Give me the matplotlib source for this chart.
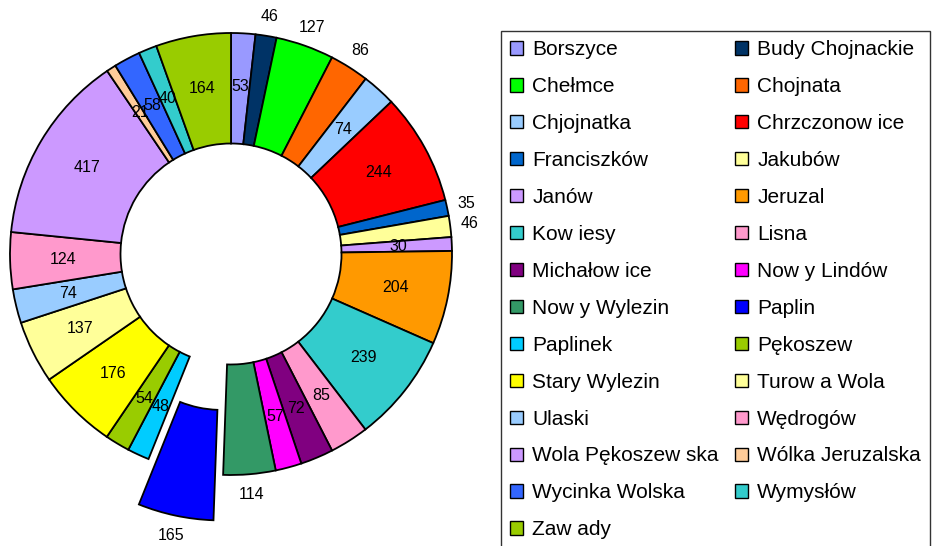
import matplotlib
matplotlib.use("Agg")
import matplotlib.pyplot as plt
from matplotlib.patches import Patch
import numpy as np

plt.rcParams['font.family'] = ['Liberation Sans', 'DejaVu Sans']

names = ["Borszyce", "Budy Chojnackie", "Chełmce", "Chojnata", "Chjojnatka",
         "Chrzczonow ice", "Franciszków", "Jakubów", "Janów", "Jeruzal",
         "Kow iesy", "Lisna", "Michałow ice", "Now y Lindów", "Now y Wylezin",
         "Paplin", "Paplinek", "Pękoszew", "Stary Wylezin", "Turow a Wola",
         "Ulaski", "Wędrogów", "Wola Pękoszew ska", "Wólka Jeruzalska",
         "Wycinka Wolska", "Wymysłów", "Zaw ady"]
values = [53, 46, 127, 86, 74, 244, 35, 46, 30, 204, 239, 85, 72, 57, 114,
          165, 48, 54, 176, 137, 74, 124, 417, 21, 58, 40, 164]
colors = ["#9999FF", "#003366", "#00FF00", "#FF6600", "#99CCFF", "#FF0000",
          "#0066CC", "#FFFF99", "#CC99FF", "#FF9900", "#33CCCC", "#FF99CC",
          "#800080", "#FF00FF", "#339966", "#0000FF", "#00CCFF", "#99CC00",
          "#FFFF00", "#FFFF99", "#99CCFF", "#FF99CC", "#CC99FF", "#FFCC99",
          "#3366FF", "#33CCCC", "#99CC00"]
exploded = ["Paplin"]
outside = ["Budy Chojnackie", "Chełmce", "Chojnata", "Franciszków", "Jakubów",
           "Now y Wylezin", "Paplin"]

fig = plt.figure(figsize=(9.38, 5.46), dpi=100)
ax = fig.add_axes([10 / 938, 71 / 546, 442 / 938, 442 / 546])

explode = [0.21 if n in exploded else 0 for n in names]
wedges, _ = ax.pie(values, colors=colors, startangle=90, counterclock=False,
                   explode=explode,
                   wedgeprops=dict(width=0.5, edgecolor='black', linewidth=1.3))
ax.set_xlim(-1, 1)
ax.set_ylim(-1, 1)
ax.axis('off')

for w, n, v in zip(wedges, names, values):
    w.set_clip_on(False)
    ang = np.deg2rad((w.theta1 + w.theta2) / 2)
    r = 1.09 if n in outside else 0.76
    cx, cy = w.center
    ax.text(cx + r * np.cos(ang), cy + r * np.sin(ang), str(v),
            ha='center', va='center', fontsize=11.5, color='black')

# legend filled row by row, like the original
handles = [Patch(facecolor=c, edgecolor='black', linewidth=1) for c in colors]
order = list(range(0, len(names), 2)) + list(range(1, len(names), 2))
leg = ax.legend([handles[i] for i in order], [names[i] for i in order],
                loc='upper left', bbox_to_anchor=(501 / 938, 1 - 31 / 546),
                bbox_transform=fig.transFigure, ncol=2, fontsize=15,
                frameon=True, fancybox=False, edgecolor='black',
                borderpad=0.45, borderaxespad=0, handlelength=0.6,
                handleheight=0.6, handletextpad=0.45, labelspacing=0.86,
                columnspacing=0.8)
leg.get_frame().set_linewidth(1.0)

fig.savefig("out.png", dpi=100)
